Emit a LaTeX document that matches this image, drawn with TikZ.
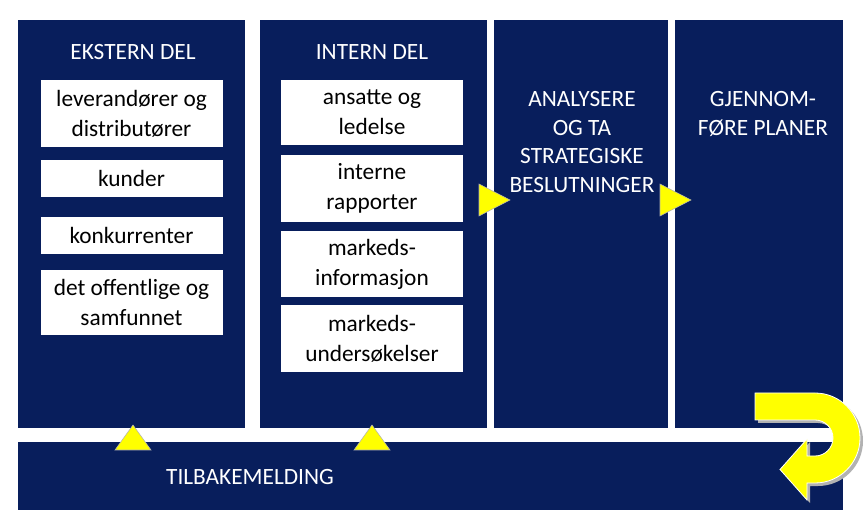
\documentclass[tikz,border=0pt]{standalone}
\usepackage{fontspec}
\setmainfont{Carlito}
\definecolor{navy}{RGB}{8,30,92}
\definecolor{yel}{RGB}{255,255,0}
\begin{document}
\begin{tikzpicture}[x=0.75pt,y=-0.75pt,
 col/.style={fill=navy,draw=none},
 wbox/.style={fill=white,draw=none,align=center,font=\fontsize{17.5}{22.5}\selectfont,text=black},
 wtxt/.style={text=white,align=center,font=\fontsize{17.5}{21.5}\selectfont},
 tri/.style={fill=yel,draw=gray!60,line width=0.4pt}]
\useasboundingbox[fill=white] (0,0) rectangle (867,530);
\fill[col] (18,20) rectangle (245,428);
\fill[col] (260,20) rectangle (487,428);
\fill[col] (494,20) rectangle (668,428);
\fill[col] (675,20) rectangle (843,428);
\fill[col] (18,442) rectangle (843,510);
\node[wtxt] (h1) at (133,52) {EKSTERN DEL};
\node[wtxt] (h2) at (372,52) {INTERN DEL};
\node[wtxt] (h3) at (582,142) {ANALYSERE\\OG TA\\STRATEGISKE\\BESLUTNINGER};
\node[wtxt] (h4) at (763,114) {GJENNOM-\\FØRE PLANER};
\node[wtxt] (fb) at (250,477) {TILBAKEMELDING};
\begin{scope}[every node/.style={wbox,minimum width=136.5pt,inner sep=0pt}]
\node[minimum height=50pt] (e1) at (131.5,113.5) {leverandører og\\distributører};
\node[minimum height=28pt] (e2) at (131.5,178.5) {kunder};
\node[minimum height=28pt] (e3) at (131.5,235.5) {konkurrenter};
\node[minimum height=49pt] (e4) at (131.5,302.5) {det offentlige og\\samfunnet};
\node[minimum height=49pt] (i1) at (372,112.5) {ansatte og\\ledelse};
\node[minimum height=50pt] (i2) at (372,188.5) {interne\\rapporter};
\node[minimum height=50pt] (i3) at (372,264) {markeds-\\informasjon};
\node[minimum height=50pt] (i4) at (372,338.5) {markeds-\\undersøkelser};
\end{scope}
\draw[tri] (115,450) -- (133,425) -- (151,450) -- cycle;
\draw[tri] (354,450) -- (372,425) -- (390,450) -- cycle;
\draw[tri] (479,184) -- (510,200) -- (479,216) -- cycle;
\draw[tri] (660,184) -- (691,200) -- (660,216) -- cycle;
\def\uarrow{(755,393) -- (815,393) arc[start angle=90,end angle=-90,radius=33.75pt] -- (807,483) -- (807,500) -- (780,469.5) -- (807,439) -- (807,456) -- (815,456) arc[start angle=-90,end angle=90,radius=13.5pt] -- (755,420) -- cycle}
\fill[gray!60,shift={(3,3)}] \uarrow;
\draw[fill=yel,draw=white,line width=0.6pt] \uarrow;
\end{tikzpicture}
\end{document}
